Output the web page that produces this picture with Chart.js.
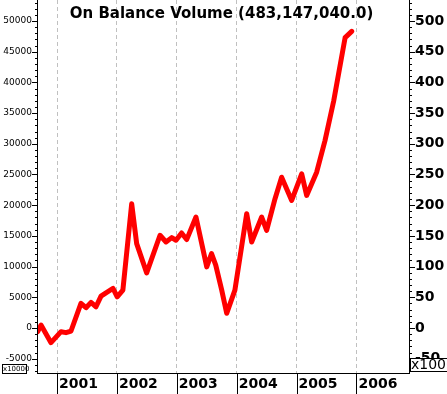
<!DOCTYPE html>
<html>
<head>
<meta charset="utf-8">
<script src="https://cdn.jsdelivr.net/npm/chart.js@4"></script>
<style>
html,body{margin:0;padding:0;background:#fff;overflow:hidden}
#wrap{position:relative;width:447px;height:394px}
canvas{display:block}
</style>
</head>
<body>
<div id="wrap"><canvas id="c" width="447" height="394"></canvas></div>
<script>
// ---- data (x = fractional year, y = OBV in units of 10,000) ----
const dates = [2000.678, 2000.733, 2000.900, 2001.067, 2001.150, 2001.234, 2001.400, 2001.484, 2001.568, 2001.651,
  2001.735, 2001.818, 2001.935, 2002.005, 2002.100, 2002.247, 2002.330, 2002.497, 2002.720, 2002.820,
  2002.915, 2002.987, 2003.080, 2003.165, 2003.320, 2003.500, 2003.580, 2003.650, 2003.750, 2003.833,
  2003.970, 2004.167, 2004.250, 2004.417, 2004.500, 2004.640, 2004.750, 2004.918, 2005.085, 2005.168,
  2005.335, 2005.474, 2005.620, 2005.810, 2005.920];
const obv = [-600, 490, -2390, -600, -760, -490, 4010, 3300, 4170, 3460,
  5190, 5730, 6440, 5080, 6170, 20240, 13750, 8980, 15100, 14010,
  14720, 14290, 15470, 14400, 18070, 9950, 12130, 10230, 6170, 2390,
  6170, 18620, 14010, 18070, 15910, 21060, 24560, 20780, 25110, 21590,
  25370, 30520, 37000, 47290, 48315];
const years = [2001, 2002, 2003, 2004, 2005, 2006];
const leftTickLabels = [-5000, 0, 5000, 10000, 15000, 20000, 25000, 30000, 35000, 40000, 45000, 50000];
const leftMinorStep = 1000;
const rightTickLabels = [-50, 0, 50, 100, 150, 200, 250, 300, 350, 400, 450, 500];
const rightMinorStep = 10;
const titleText = 'On Balance Volume (483,147,040.0)';
const leftMultiplier = 'x10000';
const rightMultiplier = 'x1000000';

const yMin = -7330, yMax = 53420;
const xMin = 2000.6828, xMax = 2006.8765;

Chart.defaults.font.family = 'DejaVu Sans';
Chart.defaults.color = '#000';

function buildTicks(min, max, step) {
  const t = [];
  for (let v = Math.ceil(min / step) * step; v <= max; v += step) t.push({value: v});
  return t;
}

const deco = {
  id: 'deco',
  afterDraw(chart) {
    const ctx = chart.ctx, a = chart.chartArea;
    const sy = chart.scales.y, sy2 = chart.scales.y2, sx = chart.scales.x;
    ctx.save();
    ctx.strokeStyle = '#000';
    ctx.lineWidth = 1;
    ctx.beginPath();
    // axis lines
    ctx.moveTo(a.left - 0.5, 0); ctx.lineTo(a.left - 0.5, a.bottom + 1);
    ctx.moveTo(a.right + 0.5, 0); ctx.lineTo(a.right + 0.5, a.bottom + 1);
    ctx.moveTo(a.left - 1, a.bottom + 0.5); ctx.lineTo(a.right + 1, a.bottom + 0.5);
    // left ticks
    sy.ticks.forEach(t => {
      const p = Math.round(sy.getPixelForValue(t.value)) + 0.5;
      const len = leftTickLabels.includes(Math.round(t.value)) ? 6 : 3;
      ctx.moveTo(a.left - len, p); ctx.lineTo(a.left, p);
    });
    // right ticks
    sy2.ticks.forEach(t => {
      const p = Math.round(sy2.getPixelForValue(t.value)) + 0.5;
      const len = rightTickLabels.includes(Math.round(t.value)) ? 6 : 3;
      ctx.moveTo(a.right, p); ctx.lineTo(a.right + len, p);
    });
    // year tick lines below axis
    sx.ticks.forEach(t => {
      const p = Math.round(sx.getPixelForValue(t.value)) + 0.5;
      ctx.moveTo(p, a.bottom); ctx.lineTo(p, chart.height);
    });
    ctx.stroke();

    // multiplier boxes
    ctx.fillStyle = '#fff';
    ctx.fillRect(2, 364, 25, 9);
    ctx.strokeRect(2.5, 364.5, 24, 9);
    ctx.fillStyle = '#000';
    ctx.font = '7px "DejaVu Sans"';
    ctx.textBaseline = 'middle';
    ctx.textAlign = 'left';
    ctx.fillText(leftMultiplier, 3, 369.5);

    ctx.fillStyle = '#fff';
    ctx.fillRect(a.right + 1, 358, 60, 13);
    ctx.strokeRect(a.right + 1.5, 358.5, 60, 13);
    ctx.fillStyle = '#000';
    ctx.font = '14px "DejaVu Sans"';
    ctx.fillText(rightMultiplier, a.right + 2, 365.5);

    // title
    ctx.font = 'bold 15px "DejaVu Sans"';
    ctx.textAlign = 'center';
    ctx.textBaseline = 'middle';
    ctx.fillText(titleText, (a.left + a.right) / 2 - 2, 14);
    ctx.restore();
  }
};

new Chart(document.getElementById('c'), {
  type: 'line',
  data: {
    datasets: [{
      data: dates.map((d, i) => ({x: d, y: obv[i]})),
      borderColor: '#ff0000',
      borderWidth: 5,
      pointRadius: 0,
      tension: 0,
      borderJoinStyle: 'round',
      borderCapStyle: 'round',
      fill: false,
      yAxisID: 'y'
    }]
  },
  options: {
    responsive: false,
    animation: false,
    devicePixelRatio: 1,
    layout: {padding: 0},
    plugins: {legend: {display: false}, tooltip: {enabled: false}, title: {display: false}},
    scales: {
      x: {
        type: 'linear', min: xMin, max: xMax,
        grid: {display: true, drawTicks: false, color: '#c0c0c0', lineWidth: 1},
        border: {display: false, dash: [4, 3]},
        afterBuildTicks(s) { s.ticks = years.map(v => ({value: v})); },
        ticks: {autoSkip: false, maxRotation: 0, minRotation: 0, align: 'start', labelOffset: 2, padding: 3,
          font: {size: 14, weight: 'bold'}, color: '#000', callback: v => String(v)},
        afterFit(s) { s.height = 21; s.paddingLeft = 0; s.paddingRight = 0; }
      },
      y: {
        type: 'linear', position: 'left', min: yMin, max: yMax,
        grid: {display: false, drawTicks: false},
        border: {display: false},
        afterBuildTicks(s) { s.ticks = buildTicks(yMin, yMax, leftMinorStep); },
        ticks: {autoSkip: false, padding: 6, font: {size: 9}, color: '#000',
          callback: v => leftTickLabels.includes(Math.round(v)) ? String(Math.round(v)) : ''},
        afterFit(s) { s.width = 38; s.paddingTop = 0; s.paddingBottom = 0; }
      },
      y2: {
        type: 'linear', position: 'right', min: yMin / 100, max: yMax / 100,
        grid: {display: false, drawTicks: false},
        border: {display: false},
        afterBuildTicks(s) { s.ticks = buildTicks(yMin / 100, yMax / 100, rightMinorStep); },
        ticks: {autoSkip: false, padding: 6, font: {size: 14, weight: 'bold'}, color: '#000',
          callback: v => rightTickLabels.includes(Math.round(v)) ? String(Math.round(v)) : ''},
        afterFit(s) { s.width = 38; s.paddingTop = 0; s.paddingBottom = 0; }
      }
    }
  },
  plugins: [deco]
});
</script>
</body>
</html>
